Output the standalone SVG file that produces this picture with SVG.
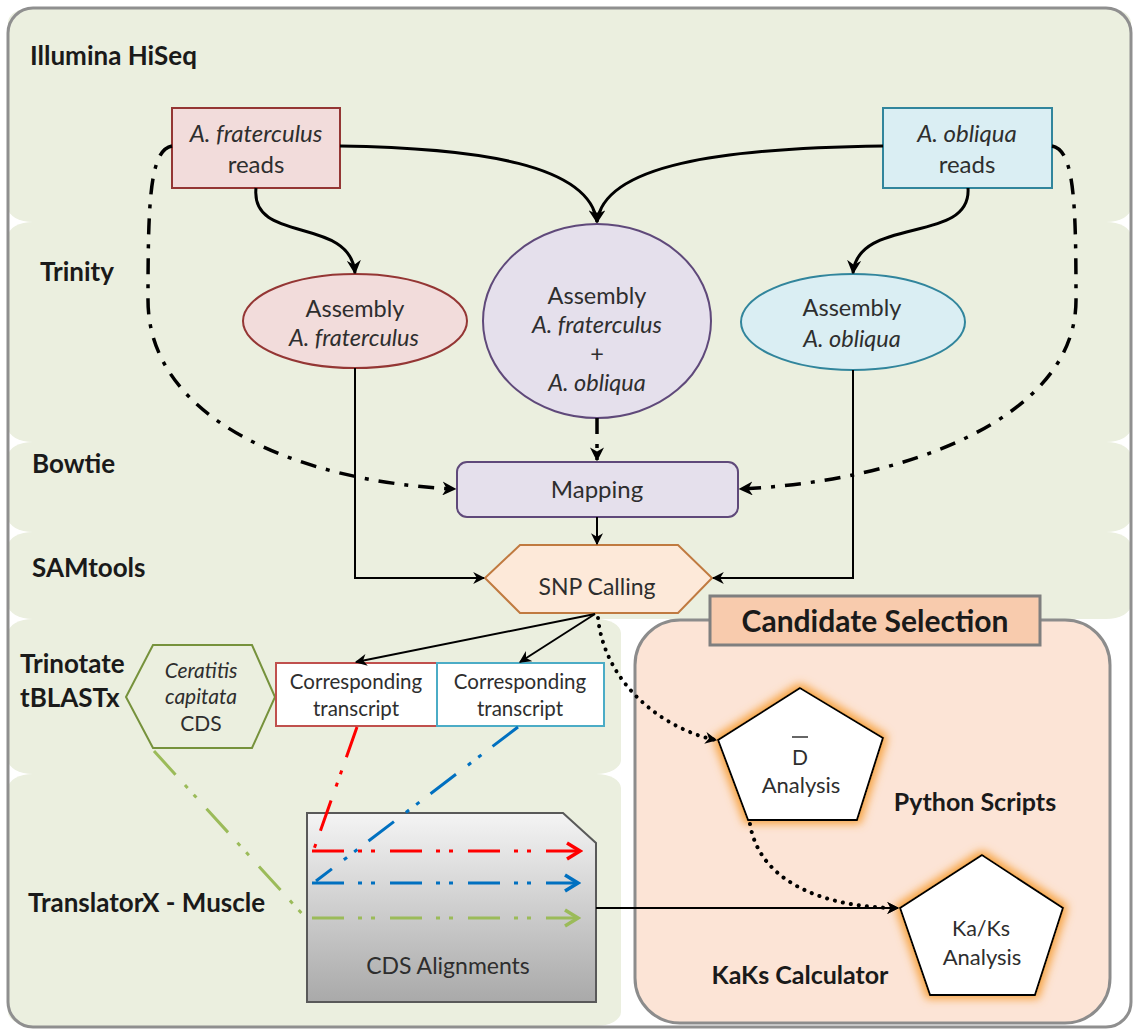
<svg xmlns="http://www.w3.org/2000/svg" width="1133" height="1030" viewBox="0 0 1133 1030">
<style>
.band{fill:#ebefdf;stroke:none}
.lbl{font-family:Lato,"Liberation Sans",sans-serif;font-weight:bold;fill:#1a1a1a}
.t{font-family:Lato,"Liberation Sans",sans-serif;fill:#2e2e2e;text-anchor:middle}
.i{font-style:italic}
.solid{fill:none;stroke:#000;stroke-width:2}
.thick{fill:none;stroke:#000;stroke-width:3}
.dd{fill:none;stroke:#000;stroke-width:3.5;stroke-dasharray:16 10 4 10}
.dot{fill:none;stroke:#000;stroke-width:4;stroke-linecap:round;stroke-dasharray:0.1 8}
.cd{fill:none;stroke-width:3;stroke-dasharray:32 14 4 9 4 15}
</style>
<defs>
<marker id="ah" viewBox="0 0 10 10" refX="9" refY="5" markerWidth="14" markerHeight="14" markerUnits="userSpaceOnUse" orient="auto">
<path d="M0,0 L10,5 L0,10 L3,5 z" fill="#000"/>
</marker>
<marker id="ahs" viewBox="0 0 10 10" refX="9" refY="5" markerWidth="12" markerHeight="12" markerUnits="userSpaceOnUse" orient="auto">
<path d="M0,0 L10,5 L0,10 L3,5 z" fill="#000"/>
</marker>
<marker id="ar" viewBox="0 0 20 20" refX="17" refY="10" markerWidth="20" markerHeight="20" markerUnits="userSpaceOnUse" orient="auto">
<path d="M4,2 L17,10 L4,18" fill="none" stroke="#ff0000" stroke-width="3.5"/>
</marker>
<marker id="ab" viewBox="0 0 20 20" refX="17" refY="10" markerWidth="20" markerHeight="20" markerUnits="userSpaceOnUse" orient="auto">
<path d="M4,2 L17,10 L4,18" fill="none" stroke="#0070c0" stroke-width="3.5"/>
</marker>
<marker id="ag" viewBox="0 0 20 20" refX="17" refY="10" markerWidth="20" markerHeight="20" markerUnits="userSpaceOnUse" orient="auto">
<path d="M4,2 L17,10 L4,18" fill="none" stroke="#9bbb59" stroke-width="3.5"/>
</marker>
<linearGradient id="gray" x1="0" y1="0" x2="0" y2="1">
<stop offset="0" stop-color="#f4f4f4"/>
<stop offset="1" stop-color="#a9a9a9"/>
</linearGradient>
<filter id="glow" x="-30%" y="-30%" width="160%" height="160%">
<feMorphology in="SourceAlpha" operator="dilate" radius="3" result="d"/>
<feGaussianBlur in="d" stdDeviation="4" result="b"/>
<feFlood flood-color="#f7a545"/>
<feComposite in2="b" operator="in" result="g"/>
<feMerge><feMergeNode in="g"/><feMergeNode in="SourceGraphic"/></feMerge>
</filter>
</defs>

<rect x="0" y="0" width="1133" height="1030" fill="#ffffff"/>
<g id="bands">
<rect class="band" x="8" y="8" width="1123" height="214" rx="25" ry="14"/>
<rect class="band" x="8" y="222" width="1123" height="220" rx="25" ry="14"/>
<rect class="band" x="8" y="442" width="1123" height="90" rx="25" ry="14"/>
<rect class="band" x="8" y="532" width="1123" height="87" rx="25" ry="14"/>
<rect class="band" x="8" y="619" width="613" height="155" rx="25" ry="14"/>
<rect class="band" x="8" y="774" width="613" height="252" rx="25" ry="14"/>
</g>
<rect id="frame" x="8" y="8" width="1123" height="1019" rx="25" fill="none" stroke="#8f8f8f" stroke-width="3"/>

<g id="labels">
<text class="lbl" x="30" y="65" font-size="26">Illumina HiSeq</text>
<text class="lbl" x="40" y="281" font-size="26">Trinity</text>
<text class="lbl" x="32" y="473" font-size="26">Bowtie</text>
<text class="lbl" x="32" y="577" font-size="26">SAMtools</text>
<text class="lbl" x="20" y="673" font-size="26">Trinotate</text>
<text class="lbl" x="20" y="707" font-size="26">tBLASTx</text>
<text class="lbl" x="28" y="912" font-size="26">TranslatorX - Muscle</text>
</g>

<g id="candidate-selection">
<rect x="635" y="620" width="475" height="403" rx="45" fill="#fce4d6" stroke="#8c8c8c" stroke-width="3"/>
<rect x="710" y="596" width="330" height="49" fill="#f8cbad" stroke="#7f7f7f" stroke-width="3"/>
<text class="lbl" x="875" y="632" font-size="30" text-anchor="middle">Candidate Selection</text>
<text class="lbl" x="975" y="811" font-size="25" text-anchor="middle">Python Scripts</text>
<text class="lbl" x="800" y="984" font-size="25" text-anchor="middle">KaKs Calculator</text>
</g>

<g id="reads-fraterculus">
<rect x="172" y="108" width="168" height="80" fill="#f2dcdb" stroke="#943634" stroke-width="2"/>
<text class="t i" x="256" y="142" font-size="24">A. fraterculus</text>
<text class="t" x="256" y="173" font-size="24">reads</text>
</g>
<g id="reads-obliqua">
<rect x="883" y="108" width="169" height="80" fill="#daeef3" stroke="#31859c" stroke-width="2"/>
<text class="t i" x="967" y="142" font-size="24">A. obliqua</text>
<text class="t" x="967" y="173" font-size="24">reads</text>
</g>
<g id="assembly-fraterculus">
<ellipse cx="355" cy="321" rx="112" ry="47" fill="#f2dcdb" stroke="#943634" stroke-width="2"/>
<text class="t" x="355" y="317" font-size="23.5">Assembly</text>
<text class="t i" x="354" y="346" font-size="23.5">A. fraterculus</text>
</g>
<g id="assembly-both">
<ellipse cx="597" cy="321" rx="114" ry="97" fill="#e5e0ec" stroke="#5f497a" stroke-width="2"/>
<text class="t" x="597" y="304" font-size="23.5">Assembly</text>
<text class="t i" x="597" y="333" font-size="23.5">A. fraterculus</text>
<text class="t" x="597" y="362" font-size="23.5">+</text>
<text class="t i" x="597" y="391" font-size="23.5">A. obliqua</text>
</g>
<g id="assembly-obliqua">
<ellipse cx="853" cy="322" rx="112" ry="48" fill="#daeef3" stroke="#31859c" stroke-width="2"/>
<text class="t" x="852" y="316" font-size="23.5">Assembly</text>
<text class="t i" x="852" y="347" font-size="23.5">A. obliqua</text>
</g>
<g id="mapping">
<rect x="457" y="462" width="281" height="55" rx="10" fill="#e5e0ec" stroke="#5f497a" stroke-width="2"/>
<text class="t" x="597" y="498" font-size="24">Mapping</text>
</g>
<g id="snp-calling">
<polygon points="485,578 520,545 678,545 712,578 678,613 520,613" fill="#fde9d9" stroke="#c07a40" stroke-width="2"/>
<text class="t" x="597" y="595" font-size="23">SNP Calling</text>
</g>
<g id="ceratitis-cds">
<polygon points="126,697 153,645 252,645 275,697 252,748 153,748" fill="#ebefdf" stroke="#76923c" stroke-width="2"/>
<text class="t i" x="201" y="678" font-size="21">Ceratitis</text>
<text class="t i" x="201" y="704" font-size="21">capitata</text>
<text class="t" x="201" y="731" font-size="21">CDS</text>
</g>
<g id="transcript-red">
<rect x="276" y="663" width="161" height="63" fill="#ffffff" stroke="#c0504d" stroke-width="2"/>
<text class="t" x="356" y="689" font-size="20.5">Corresponding</text>
<text class="t" x="356" y="716" font-size="20.5">transcript</text>
</g>
<g id="transcript-blue">
<rect x="437" y="663" width="167" height="63" fill="#ffffff" stroke="#4bacc6" stroke-width="2"/>
<text class="t" x="520" y="689" font-size="20.5">Corresponding</text>
<text class="t" x="520" y="716" font-size="20.5">transcript</text>
</g>
<g id="cds-alignments">
<polygon points="307,813 563,813 596,843 596,1002 307,1002" fill="url(#gray)" stroke="#595959" stroke-width="2"/>
<text class="t" x="448" y="974" font-size="23">CDS Alignments</text>
</g>
<g id="d-analysis">
<polygon points="800,688 883,738 857,820 748,820 718,740" fill="#ffffff" stroke="#000" stroke-width="2" filter="url(#glow)"/>
<text class="t" x="800" y="765" font-size="21">D</text>
<line x1="792" y1="737" x2="808" y2="737" stroke="#333" stroke-width="1.5"/>
<text class="t" x="801" y="793" font-size="22">Analysis</text>
</g>
<g id="kaks-analysis">
<polygon points="982,855 1063,908 1035,995 930,995 900,908" fill="#ffffff" stroke="#000" stroke-width="2" filter="url(#glow)"/>
<text class="t" x="981" y="936" font-size="21.5">Ka/Ks</text>
<text class="t" x="982" y="965" font-size="22">Analysis</text>
</g>

<g id="connectors">
<path class="thick" d="M340,146 C480,148 590,165 597,222" marker-end="url(#ah)"/>
<path class="thick" d="M883,146 C720,148 604,165 597,222" marker-end="url(#ah)"/>
<path class="thick" d="M256,188 C250,245 350,215 355,273" marker-end="url(#ah)"/>
<path class="thick" d="M968,188 C972,245 858,215 853,273" marker-end="url(#ah)"/>
<path class="dd" d="M172,146 C150,150 148,200 148,300 C148,420 300,482 455,489" marker-end="url(#ah)"/>
<path class="dd" d="M1052,146 C1074,150 1076,200 1076,300 C1076,420 900,482 740,489" marker-end="url(#ah)"/>
<path class="dd" d="M597,418 L597,460" marker-end="url(#ah)"/>
<path class="solid" d="M355,368 L355,578 L484,578" marker-end="url(#ahs)"/>
<path class="solid" d="M853,370 L853,578 L713,578" marker-end="url(#ahs)"/>
<path class="solid" d="M597,517 L597,544" marker-end="url(#ahs)"/>
<path class="solid" d="M595,614 L356,662" marker-end="url(#ahs)"/>
<path class="solid" d="M595,614 L520,662" marker-end="url(#ahs)"/>
<path class="dot" d="M598,618 C605,685 665,730 716,740" marker-end="url(#ahs)"/>
<path class="dot" d="M750,824 C760,885 830,908 898,908" marker-end="url(#ahs)"/>
<path class="solid" d="M596,908 L898,908" marker-end="url(#ahs)"/>
<path class="cd" stroke="#ff0000" d="M357,727 L314,849"/>
<path class="cd" stroke="#0070c0" d="M518,727 L316,881"/>
<path class="cd" stroke="#9bbb59" d="M154,751 L305,917"/>
<path class="cd" stroke="#ff0000" d="M312,851 L580,851" marker-end="url(#ar)"/>
<path class="cd" stroke="#0070c0" d="M312,883 L578,883" marker-end="url(#ab)"/>
<path class="cd" stroke="#9bbb59" d="M312,918 L578,918" marker-end="url(#ag)"/>
</g>
</svg>
